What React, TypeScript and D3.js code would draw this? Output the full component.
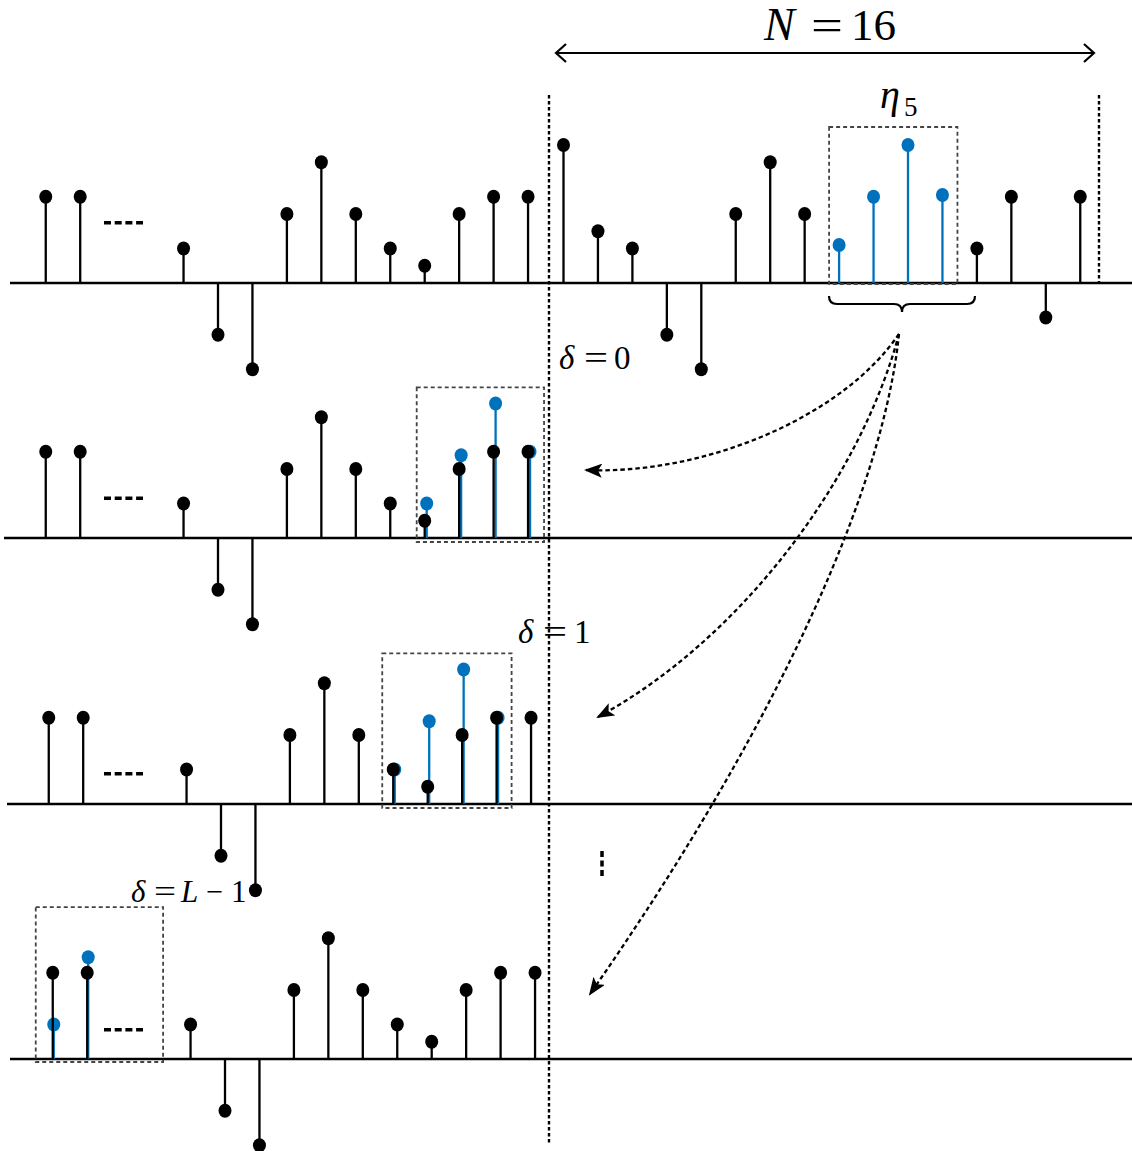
import React from "react";
import * as d3 from "d3";

// ---- data ----
const historyIndex = [-15, -14, -11, -10, -9, -8, -7, -6, -5, -4, -3, -2, -1];
const historyValues = [5, 5, 2, -3, -5, 4, 7, 4, 2, 1, 4, 5, 5];
const windowIndex = [0, 1, 2, 3, 4, 5, 6, 7, 8, 9, 10, 11, 12, 13, 14, 15];
const windowValues = [8, 3, 2, -3, -5, 4, 7, 4, 2.2, 5, 8, 5.1, 2, 5, -2, 5];
const eta5Index = [8, 9, 10, 11];
const shift0Index = [-4, -3, -2, -1];
const shift0Values = [2, 4.8, 7.8, 5];
const shift1Index = [-5, -4, -3, -2];
const shift1Values = [2, 4.8, 7.8, 5];
const shiftLIndex = [-15, -14];
const shiftLValues = [2, 5.9];

const BLUE = "#0072BD";
const W = 1132;
const H = 1151;

const x = d3.scaleLinear().domain([0, 15]).range([563.5, 563.5 + 34.45 * 15]);
const unit = 17.25;
const rows = [
  { base: 283, dx: -1, dashH: 3.5, lineX0: 10 },
  { base: 538, dx: -1, dashH: 2.3, lineX0: 4 },
  { base: 804, dx: 2, dashH: 1.75, lineX0: 7 },
  { base: 1059, dx: 6, dashH: 1.7, lineX0: 10 },
];
const yFor = (base: number) => d3.scaleLinear().domain([0, 1]).range([base, base - unit]);

function Stems({ idx, vals, base, dx, color, off = 0 }: any) {
  const y = yFor(base);
  return (
    <g>
      {idx.map((i: number, k: number) => {
        const cx = x(i) + dx + off;
        return (
          <g key={k}>
            <line x1={cx} x2={cx} y1={y(0)} y2={y(vals[k])} stroke={color} strokeWidth={2.3} />
            <ellipse cx={cx} cy={y(vals[k])} rx={6.5} ry={7} fill={color} />
          </g>
        );
      })}
    </g>
  );
}

function Box({ x0, x1, y0, y1 }: any) {
  return (
    <rect x={x0} y={y0} width={x1 - x0} height={y1 - y0} fill="none" stroke="#444" strokeWidth={1.8} strokeDasharray="4,3" />
  );
}

export default function App() {
  const [r1, r2, r3, r4] = rows;
  const y1 = yFor(r1.base), y2 = yFor(r2.base), y3 = yFor(r3.base), y4 = yFor(r4.base);
  const serif = "'Liberation Serif', 'DejaVu Serif', serif";
  const dashLine = (r: any) => (
    <line x1={104} x2={143} y1={yFor(r.base)(r.dashH)} y2={yFor(r.base)(r.dashH)} stroke="#000" strokeWidth={3.5} strokeDasharray="7,3.7" />
  );
  const start = [899, 334];
  const arrows = [
    `M${start[0]},${start[1]} C840,420 700,475 586,470`,
    `M${start[0]},${start[1]} C860,480 740,640 598,717`,
    `M${start[0]},${start[1]} C880,520 740,780 590,994`,
  ];
  const blackWin = windowIndex.filter((i) => !eta5Index.includes(i));
  const blackWinVals = blackWin.map((i) => windowValues[i]);
  const blueWinVals = eta5Index.map((i) => windowValues[i]);
  return (
    <svg width={W} height={H} style={{ position: "absolute", left: 0, top: 0, background: "#fff" }}>
      <defs>
        <marker id="ah" viewBox="0 0 18 14" refX={16} refY={7} markerWidth={18} markerHeight={14} markerUnits="userSpaceOnUse" orient="auto">
          <path d="M0,0 L18,7 L0,14 L4,7 z" fill="#000" />
        </marker>
      </defs>
      <rect width={W} height={H} fill="#fff" />

      {/* baselines */}
      {rows.map((r, k) => (
        <line key={k} x1={r.lineX0} x2={W} y1={r.base} y2={r.base} stroke="#000" strokeWidth={2.6} />
      ))}

      {/* dashed vertical separators */}
      <line x1={549} x2={549} y1={95} y2={1143} stroke="#000" strokeWidth={2.4} strokeDasharray="3.5,2.5" />
      <line x1={1099} x2={1099} y1={95} y2={283} stroke="#000" strokeWidth={2.4} strokeDasharray="3.5,2.5" />

      {/* row 1 */}
      <Stems idx={historyIndex} vals={historyValues} base={r1.base} dx={r1.dx} color="#000" />
      <Stems idx={blackWin} vals={blackWinVals} base={r1.base} dx={0} color="#000" />
      <Stems idx={eta5Index} vals={blueWinVals} base={r1.base} dx={0} color={BLUE} />
      {dashLine(r1)}
      <Box x0={x(8) - 10} x1={x(11) + 15} y0={y1(8) - 18} y1={r1.base + 1} />

      {/* row 2 */}
      <Stems idx={shift0Index} vals={shift0Values} base={r2.base} dx={r2.dx} color={BLUE} off={2} />
      <Stems idx={historyIndex} vals={historyValues} base={r2.base} dx={r2.dx} color="#000" />
      {dashLine(r2)}
      <Box x0={x(-4) + r2.dx - 8} x1={x(-1) + r2.dx + 16} y0={y2(7.8) - 16} y1={r2.base + 4} />

      {/* row 3 */}
      <Stems idx={shift1Index} vals={shift1Values} base={r3.base} dx={r3.dx} color={BLUE} off={1.5} />
      <Stems idx={historyIndex} vals={historyValues} base={r3.base} dx={r3.dx} color="#000" />
      {dashLine(r3)}
      <Box x0={x(-5) + r3.dx - 11} x1={x(-2) + r3.dx + 15} y0={y3(7.8) - 16} y1={r3.base + 4} />

      {/* row 4 */}
      <Stems idx={shiftLIndex} vals={shiftLValues} base={r4.base} dx={r4.dx} color={BLUE} off={1} />
      <Stems idx={historyIndex} vals={historyValues} base={r4.base} dx={r4.dx} color="#000" />
      {dashLine(r4)}
      <Box x0={x(-15) + r4.dx - 17} x1={x(-12) + r4.dx + 7} y0={y4(8.8)} y1={r4.base + 3} />

      {/* brace */}
      <path d="M829,296 Q829,304 837,304 L894,304 Q902,304 902,312 Q902,304 910,304 L967,304 Q975,304 975,296" fill="none" stroke="#000" strokeWidth={2.2} />

      {/* curved dashed arrows */}
      {arrows.map((d, k) => (
        <path key={k} d={d} fill="none" stroke="#000" strokeWidth={2.3} strokeDasharray="4.5,3" markerEnd="url(#ah)" />
      ))}

      {/* vertical ellipsis */}
      <line x1={602} x2={602} y1={851} y2={877} stroke="#000" strokeWidth={3.5} strokeDasharray="6,3.5" />

      {/* N = 16 double arrow */}
      <line x1={556} x2={1094} y1={53} y2={53} stroke="#000" strokeWidth={2.2} />
      <path d="M566,44 L556,53 L566,62" fill="none" stroke="#000" strokeWidth={2.2} />
      <path d="M1084,44 L1094,53 L1084,62" fill="none" stroke="#000" strokeWidth={2.2} />

      <g fontFamily={serif} fill="#000">
        <text x={764} y={40} fontSize={46} fontStyle="italic">N</text>
        <text x={811} y={40} fontSize={44} textLength={32} lengthAdjust="spacingAndGlyphs">=</text>
        <text x={851} y={40} fontSize={45}>16</text>

        <text x={880} y={108} fontSize={40} fontStyle="italic">η</text>
        <text x={904} y={116} fontSize={27}>5</text>

        <text x={559} y={369} fontSize={33} fontStyle="italic">δ</text>
        <text x={584} y={369} fontSize={33} textLength={24} lengthAdjust="spacingAndGlyphs">=</text>
        <text x={614} y={369} fontSize={33}>0</text>

        <text x={518} y={643} fontSize={33} fontStyle="italic">δ</text>
        <text x={543} y={643} fontSize={33} textLength={24} lengthAdjust="spacingAndGlyphs">=</text>
        <text x={574} y={643} fontSize={33}>1</text>

        <text x={131} y={902} fontSize={31} fontStyle="italic">δ</text>
        <text x={154} y={902} fontSize={31} textLength={22} lengthAdjust="spacingAndGlyphs">=</text>
        <text x={181} y={902} fontSize={31} fontStyle="italic">L</text>
        <text x={206} y={902} fontSize={31} textLength={17} lengthAdjust="spacingAndGlyphs">−</text>
        <text x={231} y={902} fontSize={31}>1</text>
      </g>
    </svg>
  );
}
